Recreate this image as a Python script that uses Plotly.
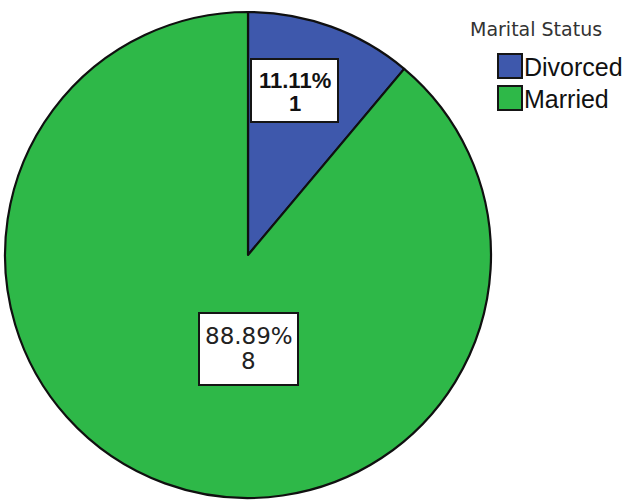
import plotly.graph_objects as go

# Marital status breakdown
categories = ["Divorced", "Married"]
counts = [1, 8]
colors = ["#3E58AC", "#2EB848"]
legend_title = "Marital Status"

total = sum(counts)
percents = [c / total * 100 for c in counts]

W, H = 628, 503


def px(x):
    return x / W


def py(y):
    return 1 - y / H


fig = go.Figure()

# Pie: first slice starts at 12 o'clock and runs clockwise
cx, cy, r = 248, 255, 243
fig.add_trace(go.Pie(
    labels=categories,
    values=counts,
    sort=False,
    direction="clockwise",
    rotation=0,
    textinfo="none",
    hoverinfo="label+percent+value",
    marker=dict(colors=colors, line=dict(color="#101010", width=2.2)),
    domain=dict(x=[px(cx - r), px(cx + r)], y=[py(cy + r), py(cy - r)]),
    showlegend=False,
))

shapes = []
annotations = []

# Boxed value labels (percent on the first line, count on the second)
label_boxes = [
    dict(x0=251, x1=338, y0=59, y1=122, line1=81, line2=103,
         font=dict(family="Liberation Sans", size=22, color="#111111"), bold=True),
    dict(x0=199, x1=298, y0=313, y1=385, line1=336, line2=361,
         font=dict(family="DejaVu Sans", size=23, color="#222222"), bold=False),
]
for i, box in enumerate(label_boxes):
    shapes.append(dict(
        type="rect", xref="paper", yref="paper",
        x0=px(box["x0"]), x1=px(box["x1"]),
        y0=py(box["y1"]), y1=py(box["y0"]),
        fillcolor="white", line=dict(color="#151515", width=2), layer="above",
    ))
    lines = [f"{percents[i]:.2f}%", f"{counts[i]}"]
    for text, yy in zip(lines, [box["line1"], box["line2"]]):
        if box["bold"]:
            text = f"<b>{text}</b>"
        annotations.append(dict(
            xref="paper", yref="paper",
            x=px((box["x0"] + box["x1"]) / 2), y=py(yy),
            text=text, showarrow=False, xanchor="center", yanchor="middle",
            font=box["font"],
        ))

# Legend drawn as swatches with text beside them
annotations.append(dict(
    xref="paper", yref="paper", x=px(468), y=py(29),
    text=legend_title, showarrow=False, xanchor="left", yanchor="middle",
    font=dict(family="DejaVu Sans", size=19, color="#333333"),
))
swatch_top = [54, 86]
for i, name in enumerate(categories):
    t = swatch_top[i]
    shapes.append(dict(
        type="rect", xref="paper", yref="paper",
        x0=px(498), x1=px(522), y0=py(t + 24), y1=py(t),
        fillcolor=colors[i], line=dict(color="#151515", width=2),
    ))
    annotations.append(dict(
        xref="paper", yref="paper", x=px(522), y=py(t + 13),
        text=name, showarrow=False, xanchor="left", yanchor="middle",
        font=dict(family="Liberation Sans", size=25, color="#111111"),
    ))

fig.update_layout(
    width=W, height=H,
    margin=dict(l=0, r=0, t=0, b=0),
    paper_bgcolor="white",
    plot_bgcolor="white",
    shapes=shapes,
    annotations=annotations,
)

fig.write_html("out.html")
